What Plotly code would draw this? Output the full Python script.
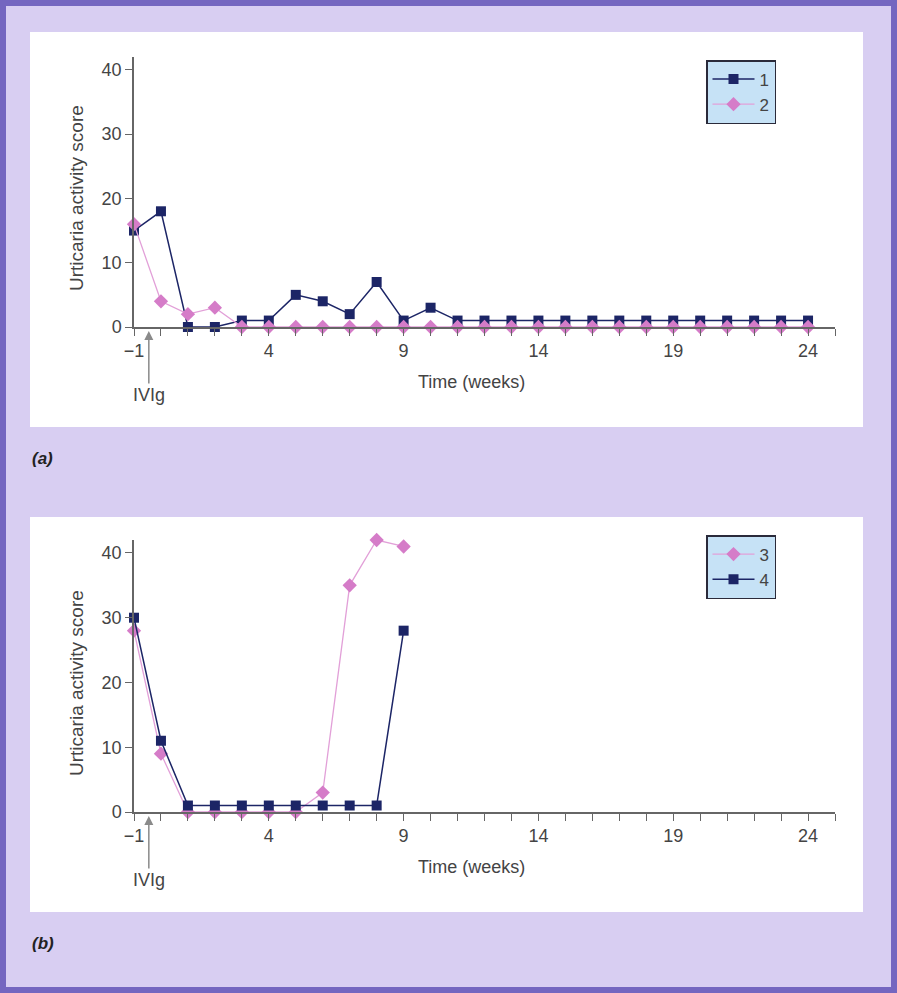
import plotly.graph_objects as go

W, H = 897, 993

weeks_a = list(range(-1, 25))
series1 = [15, 18, 0, 0, 1, 1, 5, 4, 2, 7, 1, 3] + [1] * 14
series2 = [16, 4, 2, 3] + [0] * 22

weeks_b = list(range(-1, 10))
series3 = [28, 9, 0, 0, 0, 0, 0, 3, 35, 42, 41]
series4 = [30, 11, 1, 1, 1, 1, 1, 1, 1, 1, 28]

x_tick_vals = [-1, 4, 9, 14, 19, 24]
x_tick_text = ["\u22121", "4", "9", "14", "19", "24"]
y_tick_vals = [0, 10, 20, 30, 40]

NAVY = "#1c2566"
PINK = "#d57cc8"
PINK_LINE = "#e2a0d8"
AXIS = "#666666"
TXT = "#444444"
FONT = "Liberation Sans, Arial, sans-serif"

def px_x(p):
    return p / W

def px_y(p):
    return 1 - p / H

fig = go.Figure()

def add_series(x, y, name, color, line_color, lw, symbol, size, xa, ya, leg):
    fig.add_trace(go.Scatter(x=x, y=y, name=name, mode="lines+markers",
                             line=dict(color=line_color, width=lw),
                             marker=dict(symbol=symbol, size=size, color=color),
                             cliponaxis=False,
                             xaxis=xa, yaxis=ya, legend=leg))

add_series(weeks_a, series1, "1", NAVY, NAVY, 1.5, "square", 10, "x", "y", "legend")
add_series(weeks_a, series2, "2", PINK, PINK_LINE, 1.3, "diamond", 11, "x", "y", "legend")
add_series(weeks_b, series3, "3", PINK, PINK_LINE, 1.3, "diamond", 11, "x2", "y2", "legend2")
add_series(weeks_b, series4, "4", NAVY, NAVY, 1.5, "square", 10, "x2", "y2", "legend2")

xdom = [px_x(134), px_x(835)]
common_x = dict(range=[-1, 25], tickmode="array", tickvals=x_tick_vals,
                ticktext=x_tick_text, automargin=False,
                ticks="outside", ticklen=7, tickwidth=1.3, tickcolor=AXIS,
                minor=dict(tick0=-1, dtick=1, ticks="outside", ticklen=7,
                           tickwidth=1.3, tickcolor=AXIS),
                showline=True, linecolor=AXIS, linewidth=1.5,
                showgrid=False, zeroline=False,
                tickfont=dict(size=18, color=TXT, family=FONT), domain=xdom)
common_y = dict(range=[0, 42], tickmode="array", tickvals=y_tick_vals,
                automargin=False,
                ticks="outside", ticklen=7, tickwidth=1.3, tickcolor=AXIS,
                showline=True, linecolor=AXIS, linewidth=1.5,
                showgrid=False, zeroline=False,
                tickfont=dict(size=18, color=TXT, family=FONT))

legend_style = dict(xanchor="left", yanchor="top",
                    bgcolor="#c6e2f6", bordercolor="#2a2a3a", borderwidth=1.5,
                    font=dict(size=17, color=TXT, family=FONT), itemwidth=42,
                    tracegroupgap=0)

fig.update_layout(
    width=W, height=H,
    margin=dict(l=0, r=0, t=0, b=0, pad=0, autoexpand=False),
    paper_bgcolor="#d8cef2", plot_bgcolor="rgba(0,0,0,0)",
    font=dict(family=FONT, color=TXT),
    xaxis=dict(**common_x, anchor="y"),
    yaxis=dict(**common_y, domain=[px_y(327), px_y(57)], anchor="x"),
    xaxis2=dict(**common_x, anchor="y2"),
    yaxis2=dict(**common_y, domain=[px_y(812), px_y(540)], anchor="x2"),
    legend=dict(x=px_x(706), y=px_y(60), **legend_style),
    legend2=dict(x=px_x(706), y=px_y(535), **legend_style),
)

shapes = [
    dict(type="rect", xref="paper", yref="paper", layer="below",
         x0=px_x(30), x1=px_x(863), y0=px_y(427), y1=px_y(32),
         fillcolor="white", line=dict(width=0)),
    dict(type="rect", xref="paper", yref="paper", layer="below",
         x0=px_x(30), x1=px_x(863), y0=px_y(912), y1=px_y(517),
         fillcolor="white", line=dict(width=0)),
    dict(type="rect", xref="paper", yref="paper", layer="above",
         x0=px_x(3), x1=px_x(894), y0=px_y(990), y1=px_y(3),
         fillcolor="rgba(0,0,0,0)", line=dict(color="#7466c0", width=6)),
]
fig.update_layout(shapes=shapes)

annotations = []
for (ytitle, xtitle, ivig_y, head_y, lab, lab_y, xa) in [
    (198, 382, 395, 331, "(a)", 458, "x"),
    (683, 867, 880, 816, "(b)", 943, "x2"),
]:
    annotations.append(dict(text="Urticaria activity score", textangle=-90,
                            x=px_x(76), y=px_y(ytitle), xref="paper", yref="paper",
                            xanchor="center", yanchor="middle",
                            showarrow=False, font=dict(size=19, color=TXT)))
    annotations.append(dict(text="Time (weeks)", x=px_x(471), y=px_y(xtitle),
                            xref="paper", yref="paper", xanchor="center", yanchor="middle",
                            showarrow=False, font=dict(size=18, color=TXT)))
    annotations.append(dict(text="IVIg", x=-0.45, y=px_y(head_y), xref=xa,
                            yref="paper", showarrow=True, arrowhead=2, arrowsize=1.2,
                            arrowwidth=1.5, arrowcolor="#8a8a8a",
                            ax=0, ay=ivig_y - head_y, font=dict(size=18, color=TXT)))
    annotations.append(dict(text="<b><i>" + lab + "</i></b>", x=px_x(30), y=px_y(lab_y),
                            xref="paper", yref="paper", xanchor="left", yanchor="middle",
                            showarrow=False, font=dict(size=17, color="#222")))
fig.update_layout(annotations=annotations)

fig.write_html("out.html", config={"displayModeBar": False},
               post_script="document.body.style.margin='0';document.body.style.overflow='hidden';")
